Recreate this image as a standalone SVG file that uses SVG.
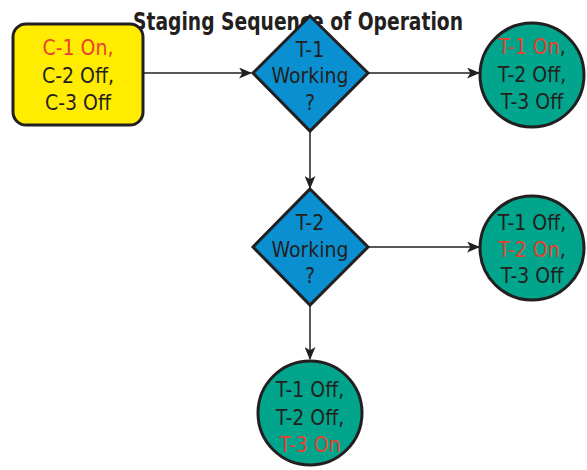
<svg xmlns="http://www.w3.org/2000/svg" width="587" height="470" viewBox="0 0 587 470">
<defs>
<marker id="ah" viewBox="0 0 12 10" refX="11" refY="5" markerWidth="13" markerHeight="11" markerUnits="userSpaceOnUse" orient="auto">
<path d="M0,0 L12,5 L0,10 L3,5 Z" fill="#231F20"/>
</marker>
<style>
.lbl{font-family:"Liberation Sans Narrow","DejaVu Sans Condensed","Liberation Sans",sans-serif;font-size:21px;fill:#231F20;text-anchor:middle}
.red{fill:#E8412F}
.shape{stroke:#231F20;stroke-width:3}
.conn{stroke:#231F20;stroke-width:1.5;fill:none}
</style>
</defs>
<rect width="587" height="470" fill="#FFFFFF"/>
<text x="133" y="30" textLength="330" lengthAdjust="spacingAndGlyphs" style="font-family:'Liberation Sans Narrow','DejaVu Sans Condensed','Liberation Sans',sans-serif;font-size:24px;font-weight:bold;fill:#231F20">Staging Sequence of Operation</text>
<g id="connectors">
<line class="conn" x1="143" y1="73" x2="251" y2="73" marker-end="url(#ah)"/>
<line class="conn" x1="368" y1="73" x2="479" y2="73" marker-end="url(#ah)"/>
<line class="conn" x1="310" y1="131" x2="310" y2="188" marker-end="url(#ah)"/>
<line class="conn" x1="368" y1="247" x2="479" y2="247" marker-end="url(#ah)"/>
<line class="conn" x1="310" y1="305" x2="310" y2="359" marker-end="url(#ah)"/>
</g>
<g id="start">
<rect class="shape" x="13" y="24" width="130" height="101" rx="13" fill="#FFEC00"/>
<text class="lbl" x="78" y="55"><tspan class="red">C-1 On,</tspan></text>
<text class="lbl" x="78" y="83">C-2 Off,</text>
<text class="lbl" x="78" y="110">C-3 Off</text>
</g>
<g id="decision1">
<polygon class="shape" points="310,16 368,73 310,131 253,73" fill="#0A8FD1"/>
<text class="lbl" x="310" y="57">T-1</text>
<text class="lbl" x="310" y="83">Working</text>
<text class="lbl" x="310" y="110">?</text>
</g>
<g id="state1">
<circle class="shape" cx="532" cy="75" r="52" fill="#00A58C"/>
<text class="lbl" x="532" y="54"><tspan class="red">T-1 On</tspan>,</text>
<text class="lbl" x="532" y="82">T-2 Off,</text>
<text class="lbl" x="532" y="109">T-3 Off</text>
</g>
<g id="decision2">
<polygon class="shape" points="310,189 368,247 310,305 253,247" fill="#0A8FD1"/>
<text class="lbl" x="310" y="230">T-2</text>
<text class="lbl" x="310" y="257">Working</text>
<text class="lbl" x="310" y="283">?</text>
</g>
<g id="state2">
<circle class="shape" cx="532" cy="248" r="52" fill="#00A58C"/>
<text class="lbl" x="532" y="230">T-1 Off,</text>
<text class="lbl" x="532" y="257"><tspan class="red">T-2 On</tspan>,</text>
<text class="lbl" x="532" y="283">T-3 Off</text>
</g>
<g id="state3">
<circle class="shape" cx="310" cy="413" r="52" fill="#00A58C"/>
<text class="lbl" x="310" y="397">T-1 Off,</text>
<text class="lbl" x="310" y="425">T-2 Off,</text>
<text class="lbl" x="310" y="452"><tspan class="red">T-3 On</tspan></text>
</g>
</svg>
